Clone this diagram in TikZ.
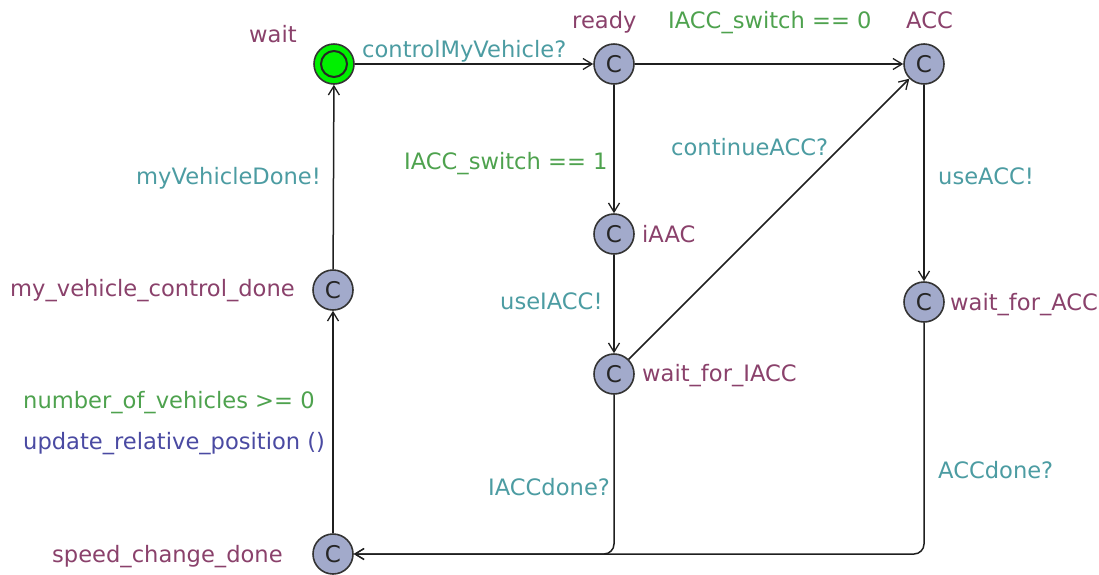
\documentclass[tikz,border=0pt]{standalone}
\usepackage{fontspec}
\setmainfont{DejaVu Sans}
\usetikzlibrary{arrows.meta}
\definecolor{locname}{HTML}{8A416B}
\definecolor{syncc}{HTML}{4C9CA2}
\definecolor{guardc}{HTML}{4EA24E}
\definecolor{updatec}{HTML}{4A4AA2}
\definecolor{locfill}{HTML}{A2AACB}
\definecolor{initfill}{HTML}{00F000}
\begin{document}
\begin{tikzpicture}[x=1pt,y=-1pt,
  loc/.style={circle, draw=black!80, line width=1.6pt, fill=locfill,
    minimum size=40pt, inner sep=0pt, text=black!85,
    font=\fontsize{23}{24}\selectfont},
  initloc/.style={circle, draw=black!80, line width=1.6pt, fill=initfill,
    minimum size=40pt, inner sep=0pt},
  trans/.style={draw=black!88, line width=1.5pt,
    -{Straight Barb[length=9pt,width=11pt,line width=1.3pt]}},
  lbl/.style={anchor=base west, inner sep=0pt,
    font=\fontsize{22.6}{24}\selectfont},
  lname/.style={lbl, text=locname},
  sync/.style={lbl, text=syncc},
  guard/.style={lbl, text=guardc},
  upd/.style={lbl, text=updatec}
]
\useasboundingbox (0,0) rectangle (1099,574);

% locations
\node[initloc] (wait) at (334,64) {};
\draw[black!85, line width=2pt] (wait.center) circle (13pt);
\node[loc] (ready) at (614,64) {C};
\node[loc] (acc) at (924,64) {C};
\node[loc] (iaac) at (614,234) {C};
\node[loc] (wfi) at (614,374) {C};
\node[loc] (wfa) at (924,302) {C};
\node[loc] (mvcd) at (333,290) {C};
\node[loc] (scd) at (333,554) {C};

% location names
\node[lname] (nwait) at (249,42) {wait};
\node[lname] (nready) at (572,28) {ready};
\node[lname] (nacc) at (906,28) {ACC};
\node[lname] (niaac) at (642,242) {iAAC};
\node[lname] (nwfi) at (642,381) {wait\_for\_IACC};
\node[lname] (nwfa) at (950,310) {wait\_for\_ACC};
\node[lname] (nmvcd) at (10,296) {my\_vehicle\_control\_done};
\node[lname] (nscd) at (52,562) {speed\_change\_done};

% transitions
\draw[trans] (wait) -- (ready);
\draw[trans] (ready) -- (acc);
\draw[trans] (ready) -- (iaac);
\draw[trans] (iaac) -- (wfi);
\draw[trans] (wfi) -- (acc);
\draw[trans] (acc) -- (wfa);
\draw[trans, rounded corners=10pt] (wfi) |- (scd);
\draw[trans, rounded corners=10pt] (wfa) |- (scd);
\draw[trans] (scd) -- (mvcd);
\draw[trans] (mvcd) -- (wait);

% transition labels
\node[sync] (s1) at (362,57) {controlMyVehicle?};
\node[guard] (g1) at (668,28) {IACC\_switch == 0};
\node[guard] (g2) at (404,169) {IACC\_switch == 1};
\node[sync] (s2) at (671,155) {continueACC?};
\node[sync] (s3) at (500,309) {useIACC!};
\node[sync] (s4) at (938,184) {useACC!};
\node[sync] (s5) at (488,495) {IACCdone?};
\node[sync] (s6) at (938,478) {ACCdone?};
\node[sync] (s7) at (136,184) {myVehicleDone!};
\node[guard] (g3) at (23,408) {number\_of\_vehicles >= 0};
\node[upd] (u1) at (23,449) {update\_relative\_position ()};
\end{tikzpicture}
\end{document}
